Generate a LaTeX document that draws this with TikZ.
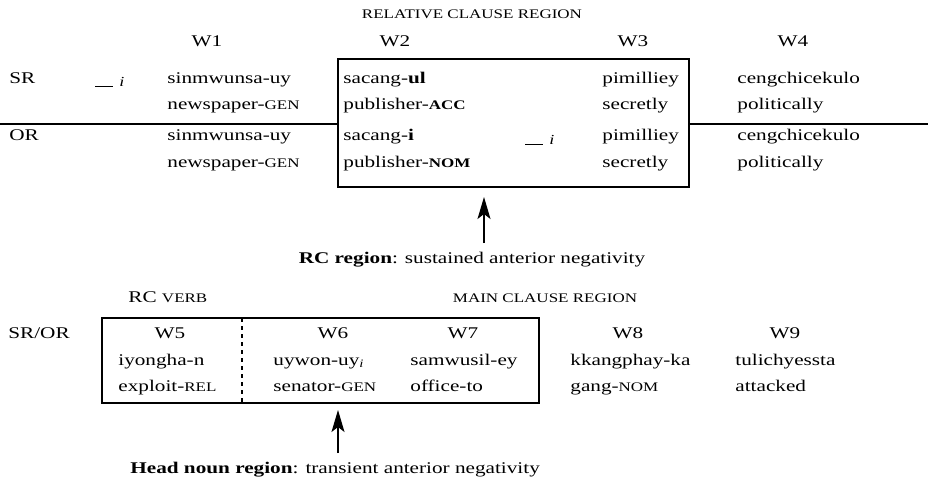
\documentclass[tikz,border=0pt]{standalone}
\usepackage{fontspec}
\setmainfont{Liberation Serif}
\usetikzlibrary{arrows.meta,positioning}

\newcommand{\fsc}[1]{{\fontsize{8.5}{9}\selectfont\MakeUppercase{#1}}}
\newcommand{\trace}{\rule[-2.5pt]{9pt}{0.5pt}\hspace{3pt}\raisebox{-2pt}{\small\itshape i}}

\tikzset{
  word/.style={anchor=base west, inner sep=0pt, yscale=0.77, font=\fontsize{10.6}{12}\selectfont},
  wnum/.style={anchor=base, inner sep=0pt, yscale=0.77, font=\fontsize{10.6}{12}\selectfont},
  frame/.style={line width=0.6pt},
  arr/.style={-{Stealth[length=11pt,width=6.5pt,inset=2.5pt]}, line width=0.6pt}
}

\begin{document}
\begin{tikzpicture}[x=0.5pt,y=-0.5pt]

\useasboundingbox (0,0) rectangle (928,479);

% upper part
\node[wnum] (rcreg) at (472,18) {\fsc{relative clause region}};

\foreach \x/\w in {207/W1, 395/W2, 633/W3, 793/W4}
    \node[wnum] (\w) at (\x,46) {\w};

\node[word] (sr) at (9,83) {SR};
\node[word] (or) at (9,140) {OR};
\node[word] (srgap) at (95,83) {\trace};
\node[word] (orgap) at (525,141) {\trace};

\foreach \x/\top/\bot/\n in {
  167/sinmwunsa-uy/newspaper-\fsc{gen}/a,
  343/sacang-\textbf{ul}/publisher-\textbf{\fsc{acc}}/b,
  602/pimilliey/secretly/c,
  737/cengchicekulo/politically/d}
{
    \node[word] (sr\n) at (\x,83) {\top};
    \node[word] (sr\n g) at (\x,109) {\bot};
}

\foreach \x/\top/\bot/\n in {
  167/sinmwunsa-uy/newspaper-\fsc{gen}/a,
  343/sacang-\textbf{i}/publisher-\textbf{\fsc{nom}}/b,
  602/pimilliey/secretly/c,
  737/cengchicekulo/politically/d}
{
    \node[word] (or\n) at (\x,140) {\top};
    \node[word] (or\n g) at (\x,167) {\bot};
}

\draw[frame] (338,59) rectangle (689,187);
\draw[frame] (0,124) -- (338,124);
\draw[frame] (689,124) -- (928,124);

\node[wnum] (rcnote) at (472,263) {\textbf{RC region}: sustained anterior negativity};
\coordinate (rctip) at (484,197);
\coordinate (rcfoot) at (484,243);
\draw[arr] (rcfoot) -- (rctip);

% lower part
\node[word] (rcverb) at (128,302) {RC \fsc{verb}};
\node[wnum] (mcreg) at (545,302) {\fsc{main clause region}};
\node[word] (sror) at (8,338) {SR/OR};

\foreach \x/\w in {170/W5, 333/W6, 463/W7, 628/W8, 785/W9}
    \node[wnum] (\w) at (\x,338) {\w};

\foreach \x/\top/\bot/\n in {
  118/iyongha-n/exploit-\fsc{rel}/e,
  273/uywon-uy\textsubscript{\textit{i}}/senator-\fsc{gen}/f,
  410/samwusil-ey/office-to/g,
  570/kkangphay-ka/gang-\fsc{nom}/h,
  735/tulichyessta/attacked/k}
{
    \node[word] (m\n) at (\x,365) {\top};
    \node[word] (m\n g) at (\x,391) {\bot};
}

\draw[frame] (102,318) rectangle (539,403);
\draw[frame, dash pattern=on 2pt off 2pt] (242,318) -- (242,403);

\node[word] (hnnote) at (130,473) {\textbf{Head noun region}: transient anterior negativity};
\coordinate (hntip) at (338,410);
\coordinate (hnfoot) at (338,453);
\draw[arr] (hnfoot) -- (hntip);

\end{tikzpicture}
\end{document}
